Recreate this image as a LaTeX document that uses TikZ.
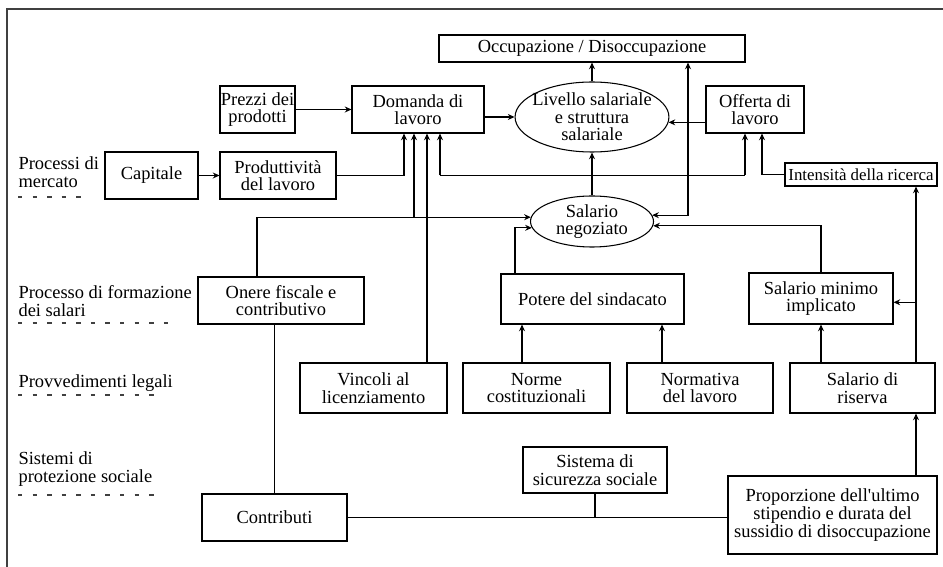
\documentclass[tikz,border=0pt]{standalone}
\usepackage{fontspec}
\setmainfont{Liberation Serif}
\newfontfamily\schema{Liberation Serif}
\usetikzlibrary{calc,shapes,arrows.meta}

\tikzset{
 box/.style 2 args={draw, align=center, inner sep=0pt, minimum width=#1*0.02cm, minimum height=#2*0.02cm},
 oval/.style 2 args={draw, ellipse, align=center, inner sep=-3pt, minimum width=#1*0.02cm, minimum height=#2*0.02cm},
 lbl/.style={anchor=west, align=left, inner sep=0pt},
 rowline/.style={black!75, dash pattern=on 2.5pt off 5.8pt}
}

\begin{document}
\begin{tikzpicture}[x=0.02cm, y=-0.02cm, >={Stealth[length=3.8pt,width=3.4pt]}, line width=0.6pt, font=\schema\fontsize{10.5}{10}\selectfont]
\useasboundingbox (0,0) rectangle (943,567);
\draw[black!75] (950,9) -- (7,9) -- (7,575);

% livelli
\node[lbl] (l1) at (18,172) {Processi di\\mercato};
\node[lbl] (l2) at (18,301) {Processo di formazione\\dei salari};
\node[lbl] (l3) at (18,383) {Provvedimenti legali};
\node[lbl] (l4) at (18,469) {Sistemi di\\protezione sociale};
\draw[rowline] (18,197) -- (84,197);
\draw[rowline] (18,323) -- (178,323);
\draw[rowline] (18,395) -- (163,395);
\draw[rowline] (18,495) -- (161,495);

% nodi
\node[box={306}{27}] (occ) at (592,48.5) {Occupazione / Disoccupazione};
\node[box={75}{47}] (prezzi) at (257.5,109.5) {Prezzi dei\\prodotti};
\node[box={132}{47}] (dom) at (418,109.5) {Domanda di\\lavoro};
\node[oval={152}{70}] (liv) at (592,117) {Livello salariale\\e struttura\\salariale};
\node[box={98}{47}] (off) at (755,109.5) {Offerta di\\lavoro};
\node[box={93}{47}] (cap) at (151.5,175.5) {Capitale};
\node[box={116}{47}] (prod) at (278,175.5) {Produttività\\del lavoro};
\node[box={152}{23}, font=\schema\fontsize{9.6}{10}\selectfont] (int) at (861,174.5) {Intensità della ricerca};
\node[oval={123}{51}] (neg) at (592,221.5) {Salario\\negoziato};
\node[box={166}{47}] (oner) at (281,300.5) {Onere fiscale e\\contributivo};
\node[box={183}{50}] (pot) at (592.5,299) {Potere del sindacato};
\node[box={144}{51}] (min) at (821,298.5) {Salario minimo\\implicato};
\node[box={147}{50}] (vinc) at (373.5,388) {Vincoli al\\licenziamento};
\node[box={147}{50}] (norme) at (536.5,388) {Norme\\costituzionali};
\node[box={146}{50}] (normat) at (700,388) {Normativa\\del lavoro};
\node[box={145}{50}] (ris) at (862.5,388) {Salario di\\riserva};
\node[box={144}{46}] (sist) at (595,470) {Sistema di\\sicurezza sociale};
\node[box={145}{47}] (contr) at (274.5,517.5) {Contributi};
\node[box={209}{78}] (prop) at (832.5,515) {Proporzione dell\textquotesingle ultimo\\stipendio e durata del\\sussidio di disoccupazione};

% mercato
\draw[->] (prezzi) -- (dom);
\draw[->] (cap) -- (prod);
\draw[->] (prod.east) -| ($(dom.south)+(-14,0)$);
\draw[->] (dom.east |- liv.west) -- (liv.west);
\draw[->] (off.west |- liv.-4) -- (liv.-4);
\draw[->] (liv) -- (occ);
\draw[->] (int.west) -| ($(off.south)+(7,0)$);

% salario negoziato
\coordinate (ja) at ($(dom.south)+(22,0)$);
\coordinate (jo) at ($(off.south)+(-10,0)$);
\draw[->] (neg) -- (liv);
\draw (ja |- prod.east) -- (jo |- prod.east);
\draw[->] (ja |- prod.east) -- (ja);
\draw[->] (jo |- prod.east) -- (jo);
\coordinate (jd) at ($(dom.south)+(-4,0)$);
\draw[->] ($(oner.north)+(-24,0)$) |- (neg.176);
\draw[->] (jd |- neg.176) -- (jd);
\draw[->] ($(pot.north)+(-77.5,0)$) |- (neg.186);
\draw[<->] ($(occ.south)+(96,0)$) |- (neg.6);
\draw[->] (min.north) |- (neg.356);
\coordinate (jv) at ($(dom.south)+(9,0)$);
\draw[->] (jv |- vinc.north) -- (jv);

% provvedimenti
\coordinate (jp1) at ($(pot.south)+(-70.5,0)$);
\coordinate (jp2) at ($(pot.south)+(69.5,0)$);
\draw[->] (jp1 |- norme.north) -- (jp1);
\draw[->] (jp2 |- normat.north) -- (jp2);
\draw[->] (ris.north -| min.south) -- (min.south);
\coordinate (jr) at ($(int.south)+(55,0)$);
\draw[->] (jr |- ris.north) -- (jr);
\draw[->] (jr |- min.-3) -- (min.-3);

% protezione sociale
\draw[->] (jr |- prop.north) -- (jr |- ris.south);
\draw (contr.north) -- (contr.north |- oner.south);
\draw (contr.east) -- (contr.east -| prop.west);
\draw (sist) -- (sist |- contr.east);
\end{tikzpicture}
\end{document}
